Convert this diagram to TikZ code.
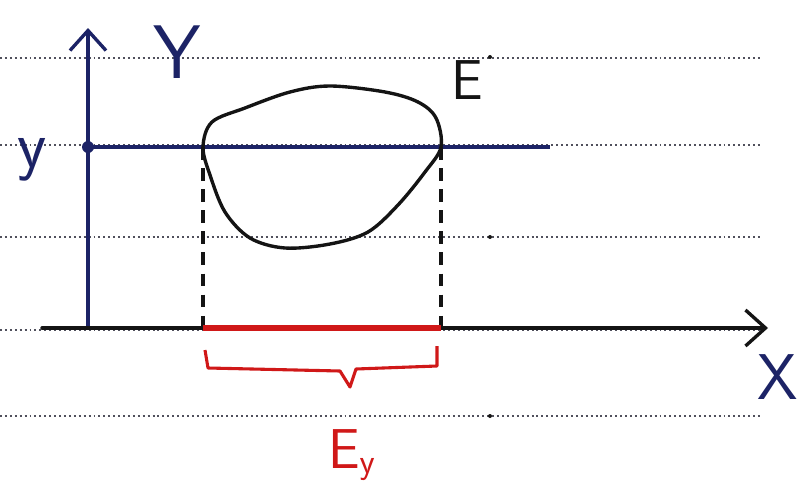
\documentclass[tikz,border=0pt]{standalone}
\usepackage{tikz}
\usetikzlibrary{arrows.meta, calc, positioning}
\usepackage{xcolor}
\definecolor{mBlue}{HTML}{1C2366}
\definecolor{mInk}{HTML}{141414}
\definecolor{mRed}{HTML}{D01818}
\definecolor{mRule}{HTML}{50505C}

\begin{document}
\begin{tikzpicture}[x=0.025cm, y=-0.025cm,
  rule/.style={draw=mRule, line width=1.4pt, dash pattern=on 1.4pt off 2.1pt},
  axis/.style={draw=mBlue, line width=2.4pt, line cap=round,
               -{Straight Barb[length=5mm, width=9mm, line width=2.4pt]}},
  blob/.style={draw=mInk, line width=2.4pt, line join=round},
  proj/.style={draw=mInk, line width=2.4pt, dash pattern=on 9pt off 6pt},
  lab/.style={font=\sffamily\fontsize{#1}{#1}\selectfont, inner sep=0pt},
  lab/.default=34]
  \useasboundingbox (0,0) rectangle (799,493);
  % ruled paper
  \foreach \yy in {58, 145, 237, 330, 416}
    \draw[rule] (0,\yy) -- (760,\yy);
  \foreach \yy in {57, 237, 416}
    \fill[mInk] (490,\yy) circle (2);
  % axes
  \coordinate (o) at (88,328);
  \coordinate (ytip) at (88,28);
  \coordinate (xstart) at (42,328);
  \coordinate (xtip) at (768,328);
  \draw[axis] (o) -- (ytip);
  \draw[axis, draw=mInk] (xstart) -- (xtip);
  \node[lab=54, text=mBlue] (ylab) at (177,52) {Y};
  \node[lab=46, text=mBlue, anchor=north east] (xlab) at (798,354) {X};
  % level y
  \coordinate (a) at (203,147);
  \coordinate (b) at (441,147);
  \coordinate (lend) at (550,147);
  \draw[draw=mBlue, line width=2.4pt] (o |- a) -- (lend);
  \fill[mBlue] (o |- a) circle (6);
  \node[lab=48, text=mBlue] (yval) at (32,160) {y};
  % the set E
  \draw[blob] plot[smooth cycle, tension=0.55] coordinates {
    (b) (436,118) (418,102) (385,92) (330,86) (290,92) (245,108) (212,122)
    (a) (210,175) (225,212) (250,238) (285,248) (330,244) (368,232)
    (398,205) (425,172)};
  \node[lab=40, text=mInk] (elab) at (467,80) {E};
  % projections
  \coordinate (ap) at (a |- o);
  \coordinate (bp) at (b |- o);
  \draw[proj] (a) -- (ap);
  \draw[proj] (b) -- (bp);
  \draw[draw=mRed, line width=3.8pt] (ap) -- (bp);
  % brace and label
  \coordinate (bl) at (205,350);
  \coordinate (br) at (437,346);
  \coordinate (bm) at (350,387);
  \draw[draw=mRed, line width=2.2pt, line join=round]
    (bl) -- ++(3,18) -- (340,371) -- (bm) -- (356,369) -- (437,366) -- (br);
  \node[lab=40, text=mRed] (eylab) at (352,455) {E$_{\mathsf{y}}$};
\end{tikzpicture}
\end{document}
